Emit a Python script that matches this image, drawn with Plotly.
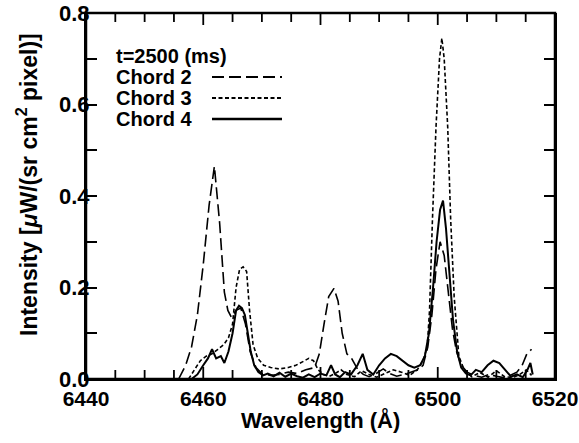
import plotly.graph_objects as go

# ---- data ----
chord2_x = [6455.8, 6457, 6458, 6459, 6460, 6461, 6461.9, 6462.8, 6463.6, 6464.2, 6464.8, 6465.6, 6466.4,
            6467.2, 6468, 6469, 6470, 6471.5, 6473, 6474.5, 6476, 6477.5, 6479, 6479.8, 6480.6, 6481.4,
            6482.3, 6483, 6483.7, 6484.5, 6485.3, 6486.3, 6487.3, 6488.3, 6489.5, 6490.7, 6491.8, 6493,
            6494.3, 6495.5, 6496.6, 6497.5, 6498.3, 6499, 6499.7, 6500.4, 6501.1, 6501.8, 6502.5, 6503.2,
            6504, 6505, 6506.2, 6507.5, 6508.8, 6510, 6511.2, 6512.4, 6513.5, 6514.4, 6515.2, 6516]
chord2_y = [0.0, 0.03, 0.07, 0.14, 0.25, 0.38, 0.465, 0.34, 0.19, 0.15, 0.135, 0.15, 0.155,
            0.12, 0.06, 0.025, 0.012, 0.008, 0.01, 0.015, 0.012, 0.02, 0.025, 0.055, 0.12, 0.18,
            0.198, 0.17, 0.10, 0.055, 0.045, 0.022, 0.01, 0.005, 0.012, 0.022, 0.012, 0.006,
            0.01, 0.015, 0.02, 0.03, 0.07, 0.14, 0.24, 0.30, 0.27, 0.19, 0.11, 0.06,
            0.03, 0.015, 0.008, 0.004, 0.01, 0.006, 0.003, 0.008, 0.015, 0.03, 0.055, 0.065]

chord3_x = [6457.5, 6458.5, 6459.5, 6460.5, 6461.5, 6462.5, 6463.5, 6464.3, 6465, 6465.6, 6466.2, 6466.8,
            6467.4, 6467.9, 6468.5, 6469.3, 6470.3, 6471.5, 6473, 6474.5, 6475.8, 6477, 6478, 6478.8,
            6479.6, 6480.5, 6481.5, 6482.5, 6483.5, 6484.5, 6485.8, 6487, 6488.3, 6489.6, 6491, 6492.4,
            6493.8, 6495.2, 6496.5, 6497.5, 6498.2, 6498.6, 6499.1, 6499.7, 6500.3, 6500.7, 6501.1,
            6501.7, 6502.2, 6502.8, 6503.6, 6504.5, 6505.8, 6507.2, 6508.6, 6510, 6511.4, 6512.8,
            6514, 6515.1, 6516]
chord3_y = [0.0, 0.02, 0.04, 0.05, 0.055, 0.065, 0.075, 0.09, 0.12, 0.2, 0.24, 0.245,
            0.235, 0.15, 0.075, 0.045, 0.03, 0.025, 0.022, 0.025, 0.03, 0.038, 0.045, 0.04,
            0.02, 0.01, 0.006, 0.012, 0.02, 0.01, 0.005, 0.018, 0.01, 0.004, 0.012, 0.02,
            0.015, 0.008, 0.02, 0.04, 0.07, 0.15, 0.35, 0.55, 0.70, 0.745, 0.70,
            0.55, 0.35, 0.18, 0.05, 0.02, 0.005, 0.014, 0.004, 0.018, 0.005, 0.003,
            0.01, 0.02, 0.008]

chord4_x = [6458, 6459, 6460, 6460.8, 6461.5, 6462.2, 6463, 6463.6, 6464.3, 6465, 6465.6, 6466.1, 6466.6,
            6467.1, 6467.6, 6468.1, 6468.7, 6469.4, 6470.2, 6471, 6472, 6473, 6474, 6475, 6476, 6477,
            6478, 6479, 6480, 6481, 6481.8, 6482.5, 6483.3, 6484.2, 6485.2, 6486.3, 6487.2, 6488, 6489,
            6490, 6491, 6492, 6493, 6494, 6495, 6496, 6497, 6497.8, 6498.5, 6499.2, 6499.8, 6500.4,
            6500.9, 6501.4, 6502, 6502.6, 6503.3, 6504, 6504.8, 6505.6, 6506.5, 6507.5, 6508.5, 6509.5,
            6510.5, 6511.5, 6512.5, 6513.5, 6514.5, 6515.3, 6515.8, 6516.2]
chord4_y = [0.0, 0.01, 0.03, 0.045, 0.065, 0.045, 0.05, 0.035, 0.06, 0.1, 0.15, 0.16, 0.155,
            0.14, 0.1, 0.06, 0.03, 0.015, 0.008, 0.012, 0.006, 0.014, 0.005, 0.012, 0.006, 0.003,
            0.01, 0.004, 0.012, 0.008, 0.03, 0.01, 0.004, 0.015, 0.01, 0.03, 0.055, 0.02, 0.01,
            0.03, 0.045, 0.055, 0.05, 0.04, 0.03, 0.025, 0.03, 0.05, 0.1, 0.2, 0.3, 0.37,
            0.39, 0.33, 0.22, 0.13, 0.06, 0.025, 0.012, 0.008, 0.02, 0.015, 0.03, 0.04,
            0.035, 0.02, 0.005, 0.01, 0.004, 0.02, 0.035, 0.01]

legend_title = "t=2500 (ms)"
series_names = ["Chord 2", "Chord 3", "Chord 4"]
x_title = "Wavelength (Å)"
y_title = "Intensity [<i>μ</i>W/(sr cm<sup>2</sup> pixel)]"
x_major_ticks = [6440, 6460, 6480, 6500, 6520]
x_minor_ticks = [6445, 6450, 6455, 6465, 6470, 6475, 6485, 6490, 6495, 6505, 6510, 6515]
y_tick_vals = [0.0, 0.1, 0.2, 0.3, 0.4, 0.5, 0.6, 0.7, 0.8]
y_tick_text = ["0.0", "", "0.2", "", "0.4", "", "0.6", "", "0.8"]

FONT = "Liberation Sans, Arial, sans-serif"
W, H = 579, 443
L, T = 86, 13
R = W - 555
B = H - 379

dash2 = "12px,5px"
dash3 = "4px,2.5px"

fig = go.Figure()
fig.add_trace(go.Scatter(x=chord2_x, y=chord2_y, mode="lines", name=series_names[0],
                         line=dict(color="black", width=1.6, dash=dash2)))
fig.add_trace(go.Scatter(x=chord3_x, y=chord3_y, mode="lines", name=series_names[1],
                         line=dict(color="black", width=1.6, dash=dash3)))
fig.add_trace(go.Scatter(x=chord4_x, y=chord4_y, mode="lines", name=series_names[2],
                         line=dict(color="black", width=2.0)))

pw = W - L - R
ph = H - T - B
def px(xp):
    return (xp - L) / pw
def py(yp):
    return (H - B - yp) / ph

# legend: text + sample lines
ys = [56, 77, 98, 119]
texts = [legend_title] + series_names
for t, yy in zip(texts, ys):
    fig.add_annotation(x=px(114), y=py(yy), xref="paper", yref="paper", text=t,
                       showarrow=False, xanchor="left", yanchor="middle",
                       font=dict(family=FONT, size=20, color="black", weight="bold"))
dashes = [dash2, dash3, "solid"]
widths = [2, 2, 2.5]
for yy, d, w in zip(ys[1:], dashes, widths):
    fig.add_shape(type="line", xref="paper", yref="paper", x0=px(212), x1=px(282),
                  y0=py(yy), y1=py(yy), line=dict(color="black", width=w, dash=d))

# axis titles
fig.add_annotation(x=px(27), y=py(185), xref="paper", yref="paper", text=y_title,
                   showarrow=False, textangle=-90, xanchor="center", yanchor="middle",
                   font=dict(family=FONT, size=23, color="black", weight="bold"))
fig.add_annotation(x=0.5, y=py(420), xref="paper", yref="paper", text=x_title,
                   showarrow=False, xanchor="center", yanchor="middle",
                   font=dict(family=FONT, size=22, color="black", weight="bold"))

# frame
fig.add_shape(type="rect", xref="paper", yref="paper", x0=0, x1=1, y0=0, y1=1,
              line=dict(color="black", width=2.5), fillcolor="rgba(0,0,0,0)", layer="above")

# x ticks (inside, bottom and top) placed through the x scale
for vals, ln in ((x_major_ticks, 12), (x_minor_ticks, 9)):
    for v in vals:
        for y0, y1 in ((0, ln / ph), (1, 1 - ln / ph)):
            fig.add_shape(type="line", xref="x", yref="paper", x0=v, x1=v, y0=y0, y1=y1,
                          line=dict(color="black", width=1.8), layer="above")

tfont = dict(family=FONT, size=22, color="black", weight="bold")

fig.update_layout(
    xaxis=dict(range=[6440, 6520], tickvals=x_major_ticks,
               showline=True, linecolor="black", linewidth=2, ticks="",
               showgrid=False, zeroline=False,
               tickfont=dict(family=FONT, size=21, color="black", weight="bold")),
    yaxis=dict(range=[0, 0.8], tickvals=y_tick_vals, ticktext=y_tick_text,
               showline=True, linecolor="black", linewidth=2, mirror="allticks",
               ticks="inside", ticklen=11, tickwidth=1.5, tickcolor="black",
               showgrid=False, zeroline=False, tickfont=tfont, ticklabeloverflow="allow",
               ticklabelstandoff=-10),
    width=W, height=H, margin=dict(l=L, r=R, t=T, b=B, autoexpand=False),
    paper_bgcolor="white", plot_bgcolor="white", showlegend=False,
)

fig.write_html("out.html", config={"displayModeBar": False},
               post_script="document.body.style.margin='0px';")
